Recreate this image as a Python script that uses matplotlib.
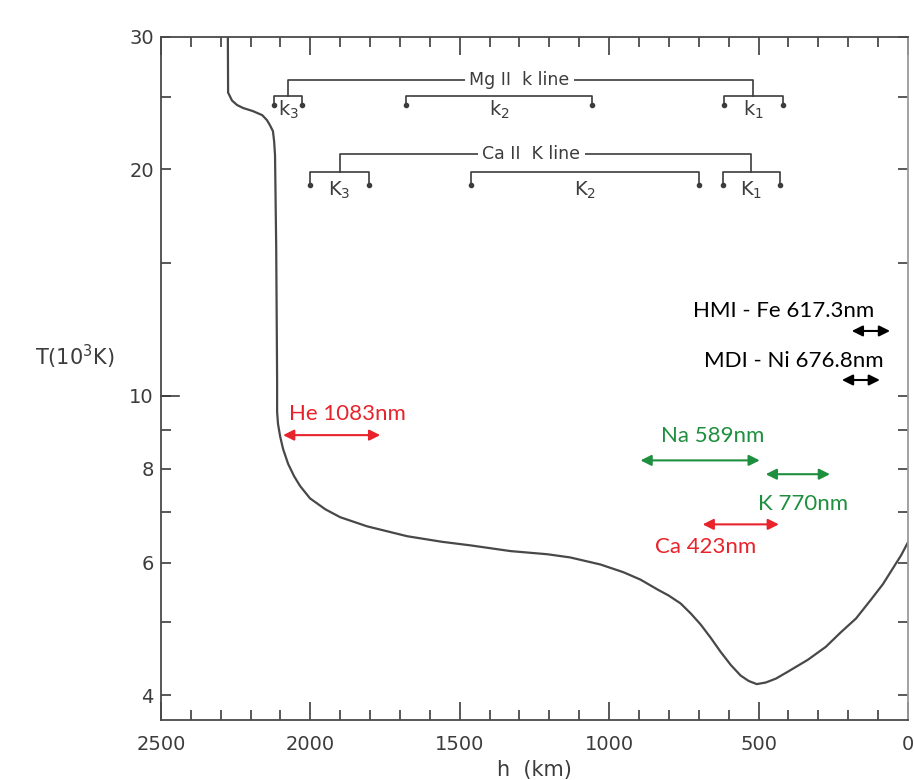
import matplotlib
matplotlib.use("Agg")
import matplotlib.pyplot as plt
import matplotlib.transforms as mtransforms
from matplotlib.ticker import FixedLocator, NullFormatter, FixedFormatter

# temperature profile, h in km, T in 10^3 K
h_km = [2276, 2275, 2262, 2245, 2225, 2192, 2161, 2145, 2135, 2125, 2121, 2118,
        2114, 2111, 2111, 2108, 2101, 2091, 2074, 2054, 2034, 2001, 1950, 1900,
        1810, 1676, 1560, 1464, 1330, 1206, 1130, 1029, 952, 895, 838, 801,
        761, 727, 694, 660, 627, 593, 560, 533, 506, 476, 442, 402, 335, 275,
        225, 174, 124, 84, 47, 23, 0]
temp_kK = [31.0, 25.3, 24.7, 24.36, 24.14, 23.91, 23.62, 23.26, 22.9, 22.49, 21.8, 20.9,
           15.7, 10.5, 9.52, 9.18, 8.84, 8.50, 8.12, 7.82, 7.59, 7.31, 7.07, 6.90,
           6.71, 6.51, 6.40, 6.33, 6.22, 6.16, 6.10, 5.97, 5.83, 5.70, 5.53, 5.43,
           5.30, 5.14, 4.97, 4.77, 4.57, 4.39, 4.25, 4.18, 4.14, 4.16, 4.21, 4.30,
           4.46, 4.64, 4.85, 5.06, 5.36, 5.62, 5.93, 6.14, 6.39]

# line-core formation ranges (h from, h to)
mg_labels = ["k$_3$", "k$_2$", "k$_1$"]
mg_ranges = [(2121, 2027), (1679, 1056), (617, 419)]
ca_labels = ["K$_3$", "K$_2$", "K$_1$"]
ca_ranges = [(2000, 1803), (1461, 700), (620, 429)]

# spectral lines used by instruments: label, h from, h to, T level
win_labels = ["He 1083nm", "Na 589nm", "K 770nm", "Ca 423nm",
              "HMI - Fe 617.3nm", "MDI - Ni 676.8nm"]
win_h = [(2091, 1766), (895, 496), (476, 261), (687, 432), (188, 60), (221, 94)]
win_T = [8.87, 8.21, 7.87, 6.75, 12.2, 10.5]
win_colors = ["#e8232b", "#1e8f3e", "#1e8f3e", "#e8232b", "black", "black"]
# where each caption sits (h, T, horizontal alignment)
win_text = [(2071, 9.46, "left"), (653, 8.84, "center"), (352, 7.18, "center"),
            (677, 6.29, "center"), (114, 12.98, "right"), (80, 11.13, "right")]

ink = "#3c3c3c"

fig = plt.figure(figsize=(9.14, 7.8), dpi=100, facecolor="white")
ax = fig.add_axes([0.176, 0.077, 0.8174, 0.8756])

ax.plot(h_km, temp_kK, color="#484848", lw=1.6, solid_capstyle="round",
        solid_joinstyle="round")

ax.set_yscale("log")
ax.set_xlim(2500, 0)
ax.set_ylim(3.71, 30)

ax.xaxis.set_major_locator(FixedLocator([2500, 2000, 1500, 1000, 500, 0]))
ax.xaxis.set_minor_locator(FixedLocator([v for v in range(100, 2500, 100) if v % 500]))
ax.yaxis.set_major_locator(FixedLocator([4, 6, 8, 10, 20, 30]))
ax.yaxis.set_major_formatter(FixedFormatter(["4", "6", "8", "10", "20", "30"]))
ax.yaxis.set_minor_locator(FixedLocator([5, 7, 9, 15, 25]))
ax.yaxis.set_minor_formatter(NullFormatter())

ax.tick_params(axis="both", which="both", direction="in", colors=ink,
               top=True, right=True, width=1.2)
ax.tick_params(axis="x", which="major", length=13, pad=11, labelsize=14)
ax.tick_params(axis="x", which="minor", length=7)
ax.tick_params(axis="y", which="major", length=7, pad=5, labelsize=14)
ax.tick_params(axis="y", which="minor", length=7)

# longer tick at the decade mark on the left axis
trans = mtransforms.blended_transform_factory(ax.transAxes, ax.transData)
ax.plot([0, 0.024], [10, 10], color=ink, lw=1.2, transform=trans, clip_on=False)

for side in ["left", "bottom", "top"]:
    ax.spines[side].set_color("#4a4a4a")
    ax.spines[side].set_linewidth(1.3)
ax.spines["right"].set_color("#9a9a9a")
ax.spines["right"].set_linewidth(1.3)

ax.set_xlabel("h  (km)", fontsize=15, color=ink)
ax.xaxis.set_label_coords(0.5, -0.073)
ax.xaxis.label.set_va("center")
ax.set_ylabel("T(10$^3$K)", fontsize=15, color=ink, rotation=0)
ax.yaxis.set_label_coords(-0.115, 0.531)
ax.yaxis.label.set_va("center")


def draw_line_group(title, labels, ranges, T_main, T_top, T_dot, T_lab, title_h):
    for lab, (h0, h1) in zip(labels, ranges):
        ax.plot([h0, h0, h1, h1], [T_dot, T_top, T_top, T_dot], color=ink, lw=1.2)
        ax.plot([h0, h1], [T_dot, T_dot], "o", color=ink, ms=3)
        ax.text((h0 + h1) / 2, T_lab, lab, ha="center", va="center",
                fontsize=14, color=ink)
    left_c = sum(ranges[0]) / 2
    right_c = sum(ranges[-1]) / 2
    ax.plot([left_c, left_c, right_c, right_c], [T_top, T_main, T_main, T_top],
            color=ink, lw=1.2)
    ax.text(title_h, T_main, title, ha="center", va="center", fontsize=12.5,
            color=ink, bbox=dict(fc="white", ec="none", pad=3))


draw_line_group("Mg II  k line", mg_labels, mg_ranges, 26.3, 25.05, 24.36, 24.0, 1300)
draw_line_group("Ca II  K line", ca_labels, ca_ranges, 20.96, 19.83, 19.1, 18.75, 1260)

for lab, (h0, h1), T, c, (th, tT, ha) in zip(win_labels, win_h, win_T, win_colors, win_text):
    ax.annotate("", xy=(h1, T), xytext=(h0, T),
                arrowprops=dict(arrowstyle="<|-|>", color=c, lw=1.5,
                                mutation_scale=16, shrinkA=0, shrinkB=0))
    ax.text(th, tT, lab, ha=ha, va="center", color=c, fontsize=16,
            family=["Lato", "DejaVu Sans"])

fig.savefig("out.png", dpi=100, facecolor="white")
